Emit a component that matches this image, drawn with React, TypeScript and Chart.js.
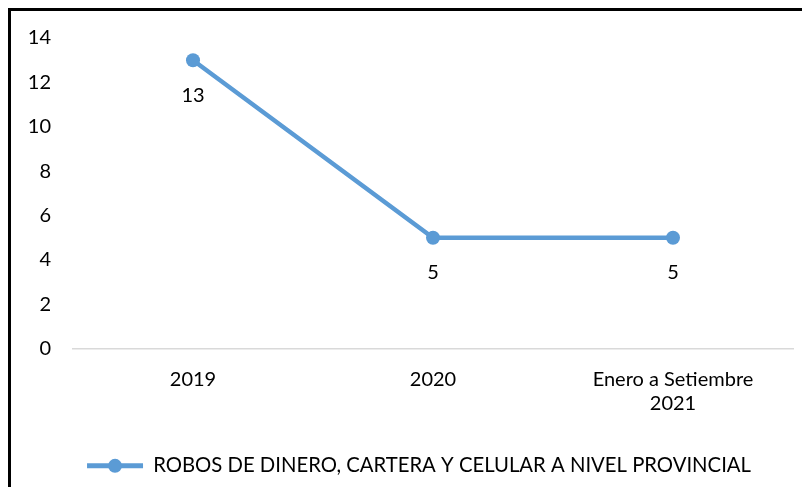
import React, { useEffect, useRef } from 'react';
import { Chart, registerables } from 'chart.js';

Chart.register(...registerables);

const categories: (string | string[])[] = ['2019', '2020', ['Enero a Setiembre', '2021']];
const values: number[] = [13, 5, 5];
const seriesName = 'ROBOS DE DINERO, CARTERA Y CELULAR A NIVEL PROVINCIAL';
const yMin = 0;
const yMax = 14;
const yStep = 2;

const LINE_COLOR = '#5B9BD5';
const FONT = 'Lato, "Open Sans", sans-serif';
const FONT_SIZE = 20;
const LEGEND_FONT_SIZE = 20.3;

const belowLabels = {
  id: 'belowLabels',
  afterDatasetsDraw(chart: any) {
    const ctx = chart.ctx;
    const meta = chart.getDatasetMeta(0);
    ctx.save();
    ctx.font = `${FONT_SIZE}px ${FONT}`;
    ctx.fillStyle = '#000';
    ctx.textAlign = 'center';
    ctx.textBaseline = 'middle';
    meta.data.forEach((pt: any, i: number) => {
      ctx.fillText(String(values[i]), pt.x, pt.y + 35);
    });
    ctx.restore();
  },
};

const legendShift = {
  id: 'legendShift',
  afterLayout(chart: any) {
    const legend = chart.legend;
    if (!legend) return;
    legend.left += 17;
    legend.right += 17;
  },
};

const legendMarker = {
  id: 'legendMarker',
  afterDraw(chart: any) {
    const legend = chart.legend;
    if (!legend || !legend.legendHitBoxes || !legend.legendHitBoxes.length) return;
    const hb = legend.legendHitBoxes[0];
    const ctx = chart.ctx;
    ctx.save();
    ctx.fillStyle = LINE_COLOR;
    ctx.beginPath();
    ctx.arc(hb.left + 28, hb.top + hb.height / 2, 7, 0, Math.PI * 2);
    ctx.fill();
    ctx.restore();
  },
};

export default function App() {
  const ref = useRef<HTMLCanvasElement | null>(null);

  useEffect(() => {
    if (!ref.current) return;
    const chart = new Chart(ref.current, {
      type: 'line',
      data: {
        labels: categories as any,
        datasets: [
          {
            label: seriesName,
            data: values,
            borderColor: LINE_COLOR,
            backgroundColor: LINE_COLOR,
            borderWidth: 4.5,
            pointRadius: 7,
            pointHoverRadius: 7,
            pointBackgroundColor: LINE_COLOR,
            pointBorderWidth: 0,
            tension: 0,
            fill: false,
          },
        ],
      },
      options: {
        animation: false,
        responsive: true,
        maintainAspectRatio: false,
        layout: { padding: { top: 27, right: 17, left: 0, bottom: 1 } },
        font: { family: FONT },
        scales: {
          x: {
            offset: true,
            grid: { display: false, drawTicks: false },
            border: { display: true, color: '#D9D9D9', width: 1.5 },
            ticks: {
              color: '#000',
              font: { family: FONT, size: FONT_SIZE },
              padding: 19,
              maxRotation: 0,
              autoSkip: false,
            },
            afterFit: (scale: any) => {
              scale.height = 97;
            },
          },
          y: {
            min: yMin,
            max: yMax,
            grid: {
              display: true,
              color: 'rgba(0,0,0,0)',
              drawOnChartArea: false,
              drawTicks: true,
              tickLength: 22,
              tickColor: 'rgba(0,0,0,0)',
            },
            border: { display: false },
            ticks: {
              stepSize: yStep,
              color: '#000',
              font: { family: FONT, size: FONT_SIZE },
              padding: 0,
            },
            afterFit: (scale: any) => {
              scale.width = 62;
            },
          },
        },
        plugins: {
          legend: {
            display: true,
            position: 'bottom',
            labels: {
              boxWidth: 56,
              boxHeight: 5,
              color: '#000',
              padding: 10,
              font: { family: FONT, size: LEGEND_FONT_SIZE },
              useBorderRadius: true,
              borderRadius: 2,
              generateLabels: () => [
                {
                  text: seriesName,
                  fillStyle: LINE_COLOR,
                  strokeStyle: LINE_COLOR,
                  lineWidth: 0,
                  hidden: false,
                  datasetIndex: 0,
                  fontColor: '#000',
                } as any,
              ],
            },
          },
          tooltip: { enabled: false },
        },
      },
      plugins: [legendShift, belowLabels, legendMarker],
    });
    return () => chart.destroy();
  }, []);

  return (
    <div
      style={{
        borderTop: '3px solid #000',
        borderLeft: '3px solid #000',
        marginRight: -8,
        height: 476,
        background: '#fff',
      }}
    >
      <div style={{ position: 'relative', width: 799, height: 476 }}>
        <canvas ref={ref} />
      </div>
    </div>
  );
}
